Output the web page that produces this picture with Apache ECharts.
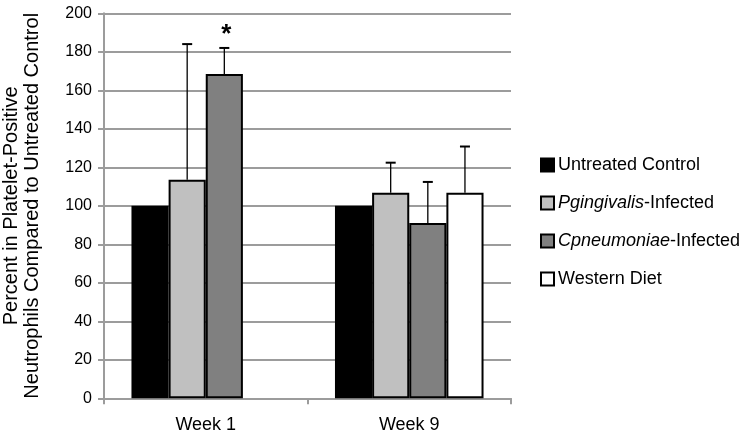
<!DOCTYPE html>
<html>
<head>
<meta charset="utf-8">
<script src="https://cdn.jsdelivr.net/npm/echarts@6/dist/echarts.min.js"></script>
<style>html,body{margin:0;padding:0;background:#fff}#c{width:746px;height:435px}</style>
</head>
<body>
<div id="c"></div>
<script>
const categories = ['Week 1', 'Week 9'];
const seriesNames = ['Untreated Control', 'Pgingivalis-Infected', 'Cpneumoniae-Infected', 'Western Diet'];
const untreated = [100, 100];
const pgingivalis = [113.5, 106.8];
const cpneumoniae = [168.5, 91];
const western = [null, 106.8];
const untreatedErr = [null, null];
const pgingivalisErr = [70.5, 15.6];
const cpneumoniaeErr = [13.5, 21.4];
const westernErr = [null, 24];
const significance = [['', ''], ['', ''], ['*', ''], ['', '']];
const yTicks = [0, 20, 40, 60, 80, 100, 120, 140, 160, 180, 200];

const values = [untreated, pgingivalis, cpneumoniae, western];
const errors = [untreatedErr, pgingivalisErr, cpneumoniaeErr, westernErr];
const colors = ['#000000', '#c0c0c0', '#808080', '#ffffff'];
const FONT = "'Liberation Sans', Arial, sans-serif";
const GAP = 0.27;
const GRID = '#9c9c9c';

const chart = echarts.init(document.getElementById('c'));

const barSeries = values.map((v, k) => ({
  name: seriesNames[k],
  type: 'bar',
  data: v,
  barGap: '0%',
  barCategoryGap: (GAP * 100) + '%',
  itemStyle: { color: colors[k], borderColor: '#000', borderWidth: 2 },
  z: 2
}));

const errSeries = values.map((v, k) => ({
  type: 'custom',
  silent: true,
  z: 3,
  data: categories.map((c, i) => [i, v[i], errors[k][i], significance[k][i]])
    .filter(d => d[1] != null && (d[2] != null || d[3])),
  renderItem: function (params, api) {
    const cat = api.value(0), val = api.value(1), err = api.value(2) || 0;
    const sig = significance[k][cat];
    const band = api.size([1, 0])[0];
    const bw = band * (1 - GAP) / 4;
    const base = api.coord([cat, val]);
    const top = api.coord([cat, val + err]);
    const x = base[0] - 2 * bw + (k + 0.5) * bw;
    const children = [];
    if (err > 0) {
      children.push({ type: 'line', shape: { x1: x, y1: base[1], x2: x, y2: top[1] }, style: { stroke: '#000', lineWidth: 1.3 } });
      children.push({ type: 'line', shape: { x1: x - 5, y1: top[1], x2: x + 5, y2: top[1] }, style: { stroke: '#000', lineWidth: 2 } });
    }
    if (sig) {
      children.push({ type: 'text', x: x + 2, y: top[1] - 13, style: { text: sig, fontSize: 26, fontWeight: 'bold', fontFamily: FONT, fill: '#000', align: 'center', verticalAlign: 'middle' } });
    }
    return { type: 'group', children: children };
  }
}));

chart.setOption({
  animation: false,
  backgroundColor: '#fff',
  grid: { left: 104, right: 235, top: 13.3, bottom: 36.7, containLabel: false, outerBoundsMode: 'none' },
  legend: {
    data: seriesNames,
    orient: 'vertical',
    left: 540,
    top: 156,
    padding: 0,
    itemWidth: 13,
    itemHeight: 13,
    itemGap: 20,
    icon: 'rect',
    textStyle: {
      fontSize: 18, fontFamily: FONT, color: '#000', padding: [0, 0, 0, -1],
      rich: { i: { fontStyle: 'italic', fontSize: 18, fontFamily: FONT, color: '#000' } }
    },
    formatter: function (name) {
      if (name === 'Pgingivalis-Infected') return '{i|Pgingivalis}-Infected';
      if (name === 'Cpneumoniae-Infected') return '{i|Cpneumoniae}-Infected';
      return name;
    }
  },
  xAxis: {
    type: 'category',
    data: categories,
    axisLine: { lineStyle: { color: GRID, width: 2 } },
    axisTick: { show: true, length: 6, lineStyle: { color: GRID, width: 2 } },
    axisLabel: { fontSize: 18, fontFamily: FONT, color: '#000', margin: 18 }
  },
  yAxis: {
    type: 'value',
    min: yTicks[0],
    max: yTicks[yTicks.length - 1],
    interval: yTicks[1] - yTicks[0],
    name: 'Percent in Platelet-Positive\nNeutrophils Compared to Untreated Control',
    nameLocation: 'middle',
    nameGap: 61,
    nameTextStyle: { fontSize: 20, fontFamily: FONT, color: '#000', lineHeight: 21 },
    axisLine: { show: true, lineStyle: { color: GRID, width: 2 } },
    axisTick: { show: true, length: 6, lineStyle: { color: GRID, width: 2 } },
    axisLabel: { fontSize: 16, fontFamily: FONT, color: '#000', margin: 12 },
    splitLine: { show: true, lineStyle: { color: GRID, width: 2 } }
  },
  series: barSeries.concat(errSeries)
});
</script>
</body>
</html>
